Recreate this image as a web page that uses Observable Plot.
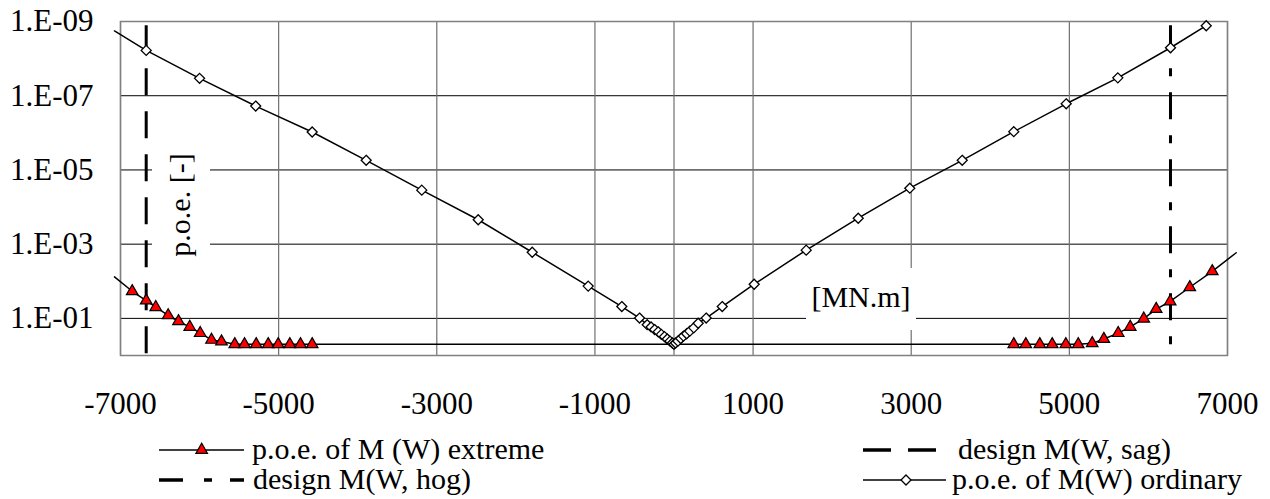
<!DOCTYPE html>
<html><head><meta charset="utf-8">
<script src="https://cdn.jsdelivr.net/npm/d3@7"></script>
<script src="https://cdn.jsdelivr.net/npm/@observablehq/plot@0.6"></script>
<style>
body{margin:0;background:#fff;}
#chart{position:relative;width:1270px;height:499px;overflow:hidden;background:#fff;}
#chart svg{display:block;}
#chart svg, #chart svg text{font-family:'Liberation Serif','Tinos','DejaVu Serif','Times New Roman',Times,serif !important;}
</style></head><body><div id="chart"></div>
<script>
const SERIF = "'Liberation Serif', 'Tinos', 'DejaVu Serif', 'Times New Roman', Times, serif";
// p.o.e. of M(W) ordinary  (M in MN.m, p.o.e. [-])
const ordinaryM = [-6675,-6000,-5290,-4576,-3893,-3190,-2476,-1793,-1085,-660,-436,-339,-290,-245,-200,-160,-120,-85,-50,-20,0,20,50,85,120,160,200,250,306,407,610,1014,1672,2330,2982,3645,4297,4960,5613,6279,6731];
const ordinaryP = [6.0e-9,3.4e-8,1.9e-7,9.5e-7,5.5e-6,3.5e-5,2.2e-4,1.65e-3,1.35e-2,4.8e-2,9.8e-2,0.148,0.17,0.2,0.23,0.27,0.31,0.36,0.41,0.46,0.5,0.46,0.41,0.35,0.30,0.26,0.22,0.18,0.135,0.098,0.048,0.012,1.45e-3,2.0e-4,3.1e-5,5.5e-6,9.3e-7,1.65e-7,3.3e-8,5.1e-9,1.3e-9];
const ordinaryTailM = [-7076];
const ordinaryTailP = [1.8e-9];

// p.o.e. of M (W) extreme
const extremeM = [-6852,-6675,-6554,-6397,-6267,-6124,-5992,-5849,-5723,-5555,-5432,-5284,-5132,-5006,-4859,-4724,-4576,4297,4449,4626,4783,4955,5112,5289,5436,5618,5770,5941,6098,6275,6523,6807];
const extremeP = [0.0186,0.033,0.05,0.083,0.12,0.17,0.25,0.38,0.42,0.5,0.5,0.5,0.5,0.5,0.5,0.5,0.5,0.5,0.5,0.5,0.5,0.5,0.5,0.47,0.36,0.25,0.17,0.102,0.056,0.035,0.0145,0.0054];
const extremeTailLeftM = [-7076], extremeTailLeftP = [0.0076];
const extremeTailRightM = [7110], extremeTailRightP = [0.0017];

// design moments
const designSagM = [-6675];
const designHogM = [6279];
const designSpanP = [1.3e-9, 1];

const xTicks = [-7000,-5000,-3000,-1000,1000,3000,5000,7000];
const xGrid = [-7000,-5000,-3000,-1000,0,1000,3000,5000,7000];
const yTicks = [1e-9,1e-7,1e-5,1e-3,1e-1];

const legendLabels = ["p.o.e. of M (W) extreme","design M(W, sag)","design M(W, hog)","p.o.e. of M(W) ordinary"];
const yTitle = "p.o.e. [-]";
const xTitle = "[MN.m]";

const ord = ordinaryM.map((m,i)=>({m, p: ordinaryP[i]}));
const ordLine = [...ordinaryTailM.map((m,i)=>({m, p: ordinaryTailP[i]})), ...ord];
const ext = extremeM.map((m,i)=>({m, p: extremeP[i]}));
const extLine = [...extremeTailLeftM.map((m,i)=>({m,p:extremeTailLeftP[i]})), ...ext, ...extremeTailRightM.map((m,i)=>({m,p:extremeTailRightP[i]}))];

const fmtY = d => { const e = Math.round(Math.log10(d)); return "1.E" + (e<0?"-":"+") + String(Math.abs(e)).padStart(2,"0"); };

const plot = Plot.plot({
  width: 1270, height: 425,
  marginLeft: 120, marginRight: 43, marginTop: 21, marginBottom: 70,
  style: {fontFamily: SERIF, fontSize: "31px", color: "#000", background: "#fff", overflow: "visible"},
  x: {domain: [-7000, 7000], label: null},
  y: {type: "log", domain: [1, 1e-9], label: null},
  marks: [
    Plot.gridY(yTicks, {stroke: "#000", strokeOpacity: 1, strokeWidth: 1}),
    Plot.gridX(xGrid, {stroke: "#707070", strokeOpacity: 1, strokeWidth: 1.2}),
    Plot.frame({stroke: "#808080", strokeWidth: 1.5}),
    Plot.axisX(xTicks, {tickSize: 0, tickPadding: 36, tickFormat: d => String(d), fontSize: 31, label: null}),
    Plot.axisY(yTicks, {tickSize: 0, tickPadding: 27, tickFormat: fmtY, fontSize: 31, label: null}),
    Plot.ruleX(designSagM, {y1: designSpanP[0], y2: designSpanP[1], stroke: "#000", strokeWidth: 3, strokeDasharray: "27,16"}),
    Plot.ruleX(designHogM, {y1: designSpanP[0], y2: designSpanP[1], stroke: "#000", strokeWidth: 3, strokeDasharray: "27,16,8,16"}),
    Plot.line(extLine, {x: "m", y: "p", stroke: "#000", strokeWidth: 1.5}),
    Plot.line(ordLine, {x: "m", y: "p", stroke: "#000", strokeWidth: 1.5}),
    Plot.dot(ext, {x: "m", y: "p", symbol: "triangle", r: 4.3, fill: "#ff0000", stroke: "#000", strokeWidth: 1.2}),
    Plot.dot(ord, {x: "m", y: "p", symbol: "diamond2", r: 4.5, fill: "#fff", stroke: "#000", strokeWidth: 1.3})
  ]
});

// in-plot axis titles with white boxes
const s = d3.select(plot);
const g1 = s.append("g");
g1.append("rect").attr("x", 152).attr("y", 145).attr("width", 58).attr("height", 120).attr("fill", "#fff");
g1.append("text").attr("transform", "translate(189.5,205) rotate(-90)").attr("text-anchor", "middle")
  .attr("font-family", SERIF).attr("font-size", 30).attr("fill", "#000").text(yTitle);
const g2 = s.append("g");
g2.append("rect").attr("x", 806).attr("y", 268).attr("width", 110).attr("height", 62).attr("fill", "#fff");
g2.append("text").attr("x", 861).attr("y", 307).attr("text-anchor", "middle")
  .attr("font-family", SERIF).attr("font-size", 30).attr("fill", "#000").text(xTitle);

document.getElementById("chart").appendChild(plot);

// legend below the plot
const leg = d3.create("svg").attr("width", 1270).attr("height", 74).attr("font-family", SERIF);
const row = [25, 55];
// row1 left: extreme
leg.append("line").attr("x1",159).attr("x2",244).attr("y1",row[0]).attr("y2",row[0]).attr("stroke","#000").attr("stroke-width",1.5);
leg.append("path").attr("d", d3.symbol(d3.symbolTriangle, Math.PI*4.3*4.3)()).attr("transform",`translate(201.7,${row[0]})`)
  .attr("fill","#ff0000").attr("stroke","#000").attr("stroke-width",1.2);
leg.append("text").attr("x",252).attr("y",row[0]+9).attr("font-size",30).text(legendLabels[0]);
// row1 right: sag
leg.append("line").attr("x1",863).attr("x2",936).attr("y1",row[0]).attr("y2",row[0]).attr("stroke","#000").attr("stroke-width",3.5).attr("stroke-dasharray","28,17");
leg.append("text").attr("x",958).attr("y",row[0]+9).attr("font-size",30).text(legendLabels[1]);
// row2 left: hog
leg.append("line").attr("x1",159).attr("x2",244).attr("y1",row[1]).attr("y2",row[1]).attr("stroke","#000").attr("stroke-width",3.5).attr("stroke-dasharray","24,21,8,18");
leg.append("text").attr("x",253).attr("y",row[1]+9).attr("font-size",30).text(legendLabels[2]);
// row2 right: ordinary
leg.append("line").attr("x1",863).attr("x2",946).attr("y1",row[1]).attr("y2",row[1]).attr("stroke","#000").attr("stroke-width",1.5);
const r2 = 4.5*Math.sqrt(Math.PI)*0.62625;
leg.append("path").attr("d", `M0,${-r2}L${r2},0L0,${r2}L${-r2},0Z`).attr("transform",`translate(906,${row[1]})`)
  .attr("fill","#fff").attr("stroke","#000").attr("stroke-width",1.3);
leg.append("text").attr("x",952).attr("y",row[1]+9).attr("font-size",30).text(legendLabels[3]);
document.getElementById("chart").appendChild(leg.node());
</script>
</body></html>
